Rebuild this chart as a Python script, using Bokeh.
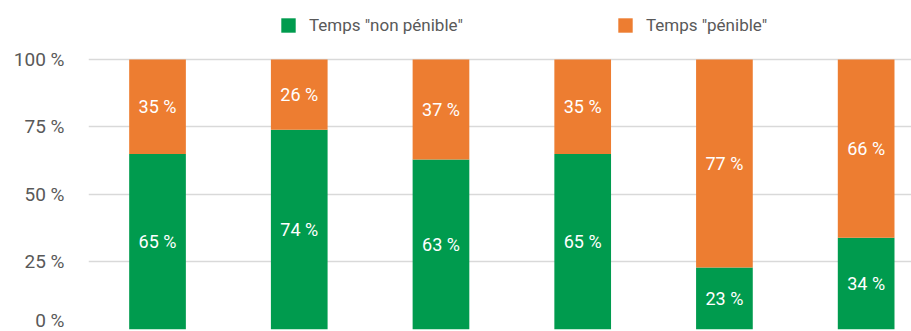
from bokeh.plotting import figure
from bokeh.models import ColumnDataSource, Range1d, FixedTicker, Legend, LegendItem, CustomJSTickFormatter
from bokeh.core.properties import value
from bokeh.embed import file_html
from bokeh.resources import INLINE

# Data
groups = ["1", "2", "3", "4", "5", "6"]
non_penible = [65, 74, 63, 65, 23, 34]
penible = [35, 26, 37, 35, 77, 66]
series_names = ['Temps "non pénible"', 'Temps "pénible"']
y_ticks = [0, 25, 50, 75, 100]

GREEN = "#009B4E"
ORANGE = "#ED7D31"
GREY = "#595959"
FONT = "Roboto"

xs = list(range(len(groups)))
src = ColumnDataSource(dict(
    x=xs,
    g_top=non_penible,
    o_bottom=non_penible,
    o_top=[a + b for a, b in zip(non_penible, penible)],
    g_mid=[v / 2 for v in non_penible],
    o_mid=[a + b / 2 for a, b in zip(non_penible, penible)],
    g_lab=[f"{v} %" for v in non_penible],
    o_lab=[f"{v} %" for v in penible],
))

p = figure(width=911, height=331, output_backend="svg", toolbar_location=None,
           x_range=Range1d(-0.487, 5.32), y_range=Range1d(0, 121.85),
           min_border_left=88, min_border_right=0, min_border_top=0, min_border_bottom=2)
p.outline_line_color = None
p.background_fill_color = "white"
p.border_fill_color = "white"

g = p.vbar(x="x", top="g_top", bottom=0, width=0.40, source=src,
           fill_color=GREEN, line_color=None)
o = p.vbar(x="x", top="o_top", bottom="o_bottom", width=0.40, source=src,
           fill_color=ORANGE, line_color=None)

for ycol, tcol in (("g_mid", "g_lab"), ("o_mid", "o_lab")):
    p.text(x="x", y=ycol, text=tcol, source=src, text_color="white",
           text_font=value(FONT), text_font_size="18px", text_align="center",
           text_baseline="middle")

p.xaxis.visible = False
p.xgrid.visible = False
p.ygrid.grid_line_color = "#d9d9d9"
p.ygrid.grid_line_width = 1.5
p.yaxis.ticker = FixedTicker(ticks=y_ticks)
p.ygrid.ticker = FixedTicker(ticks=y_ticks)
p.yaxis.formatter = CustomJSTickFormatter(code="return tick + ' %';")
p.yaxis.axis_line_color = None
p.yaxis.major_tick_line_color = None
p.yaxis.minor_tick_line_color = None
p.yaxis.major_tick_out = 0
p.yaxis.minor_tick_out = 0
p.yaxis.major_label_standoff = 24
p.yaxis.major_label_text_font = FONT
p.yaxis.major_label_text_font_size = "19px"
p.yaxis.major_label_text_color = GREY

def make_legend(renderer, label, loc):
    return Legend(items=[LegendItem(label=label, renderers=[renderer])],
                  location=loc, orientation="horizontal",
                  border_line_color=None, background_fill_alpha=0,
                  padding=0, margin=0, spacing=0,
                  glyph_width=18, glyph_height=18, label_standoff=12,
                  label_height=18,
                  label_text_font=FONT, label_text_font_size="17px",
                  label_text_color=GREY)

p.add_layout(make_legend(g, series_names[0], (191, 294)))
p.add_layout(make_legend(o, series_names[1], (528, 294)))

open("out.html", "w").write(file_html(p, INLINE))
